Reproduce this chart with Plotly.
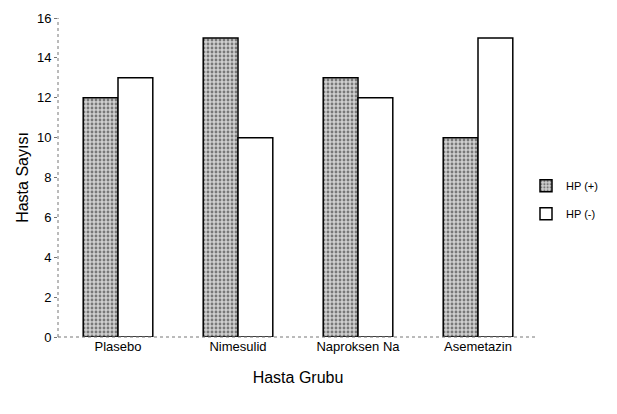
import plotly.graph_objects as go

categories = ["Plasebo", "Nimesulid", "Naproksen Na", "Asemetazin"]
hp_pos = [12, 15, 13, 10]
hp_neg = [13, 10, 12, 15]
y_ticks = [0, 2, 4, 6, 8, 10, 12, 14, 16]

FONT = "Liberation Sans Narrow, Arial Narrow, Liberation Sans, Arial, sans-serif"

fig = go.Figure()
fig.add_trace(go.Bar(
    name="HP (+)", x=categories, y=hp_pos, legendgroup="a",
    marker=dict(color="#bdbdbd", line=dict(color="black", width=1.5),
                pattern=dict(shape=".", fgcolor="#222222", bgcolor="#cfcfcf", size=4, solidity=0.4)),
))
fig.add_trace(go.Bar(
    name="HP (-)", x=categories, y=hp_neg, legendgroup="b",
    marker=dict(color="white", line=dict(color="black", width=1.5)),
))

fig.update_layout(
    width=609, height=406,
    margin=dict(l=50, r=79, t=10, b=77),
    paper_bgcolor="white", plot_bgcolor="white",
    barmode="group", bargap=0.42, bargroupgap=0,
    font=dict(family=FONT, size=13, color="black"),
    showlegend=True,
    legend=dict(x=0.975, y=0.43, xanchor="left", yanchor="middle",
                font=dict(size=11), bgcolor="rgba(0,0,0,0)",
                itemwidth=30, traceorder="grouped", tracegroupgap=9, borderwidth=0),
    shapes=[
        dict(type="line", xref="paper", yref="paper", x0=0, x1=0, y0=0, y1=1,
             line=dict(color="#777777", width=1, dash="dot")),
        dict(type="line", xref="paper", yref="paper", x0=0, x1=1, y0=0, y1=0,
             line=dict(color="#777777", width=1, dash="dot")),
    ],
)
fig.update_xaxes(title=dict(text="Hasta Grubu", standoff=18), showline=False, ticks="",
                 showgrid=False, tickfont=dict(size=13))
fig.update_yaxes(title=dict(text="Hasta Sayısı", standoff=4), range=[0, 16], tickvals=y_ticks,
                 showgrid=False, zeroline=False, showline=False, automargin=False,
                 ticks="outside", ticklen=3, tickcolor="#777777", tickfont=dict(size=13),
                 ticksuffix="  ")

fig.write_html("out.html")
